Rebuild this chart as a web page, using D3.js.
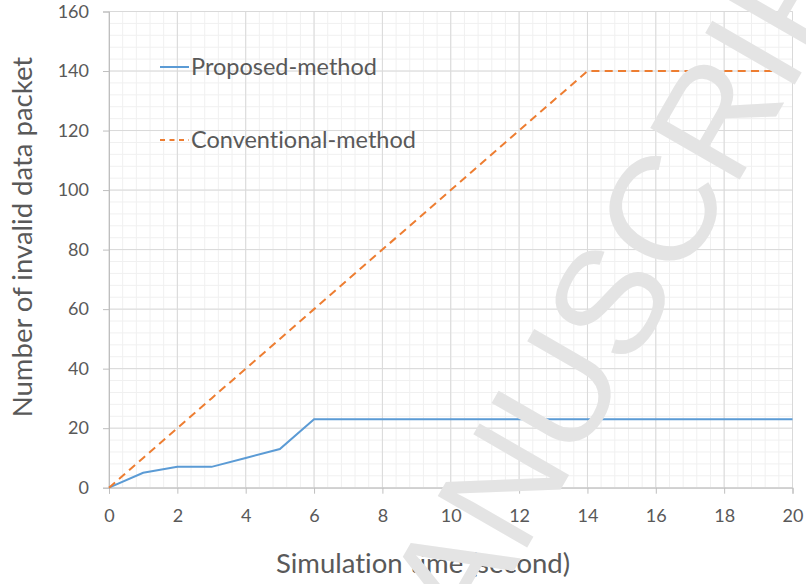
<!DOCTYPE html>
<html><head><meta charset="utf-8">
<script src="https://cdn.jsdelivr.net/npm/d3@7"></script>
<style>body{margin:0;background:#fff}svg{display:block}text{font-variant-ligatures:none;font-feature-settings:"liga" 0,"clig" 0}</style>
</head><body>
<svg id="c" width="806" height="584"></svg>
<script>
const times = [0,1,2,3,4,5,6,7,8,9,10,11,12,13,14,15,16,17,18,19,20];
const proposed = [0,5,7,7,10,13,23,23,23,23,23,23,23,23,23,23,23,23,23,23,23];
const conventional = [0,10,20,30,40,50,60,70,80,90,100,110,120,130,140,140,140,140,140,140,140];
const seriesNames = ["Proposed-method","Conventional-method"];
const xTicks = [0,2,4,6,8,10,12,14,16,18,20];
const yTicks = [0,20,40,60,80,100,120,140,160];
const xTitle = "Simulation time (second)";
const yTitle = "Number of invalid data packet";
const watermark = "ANUSCRIPT";

const svg = d3.select("#c");
const x = d3.scaleLinear().domain([0,20]).range([109,792.5]);
const y = d3.scaleLinear().domain([0,160]).range([487.7,11.5]);
const font = "Lato, 'Open Sans', sans-serif";
const tc = "#595959";

// minor grid
const xMinor = d3.range(0,20.001,0.4), yMinor = d3.range(0,160.001,4);
svg.append("g").selectAll("line").data(xMinor).join("line")
  .attr("x1",d=>x(d)).attr("x2",d=>x(d)).attr("y1",y(0)).attr("y2",y(160))
  .attr("stroke","#f0f0f0").attr("stroke-width",1);
svg.append("g").selectAll("line").data(yMinor).join("line")
  .attr("y1",d=>y(d)).attr("y2",d=>y(d)).attr("x1",x(0)).attr("x2",x(20))
  .attr("stroke","#f0f0f0").attr("stroke-width",1);
// major grid
svg.append("g").selectAll("line").data(xTicks).join("line")
  .attr("x1",d=>x(d)).attr("x2",d=>x(d)).attr("y1",y(0)).attr("y2",y(160))
  .attr("stroke","#d9d9d9").attr("stroke-width",1);
svg.append("g").selectAll("line").data(yTicks).join("line")
  .attr("y1",d=>y(d)).attr("y2",d=>y(d)).attr("x1",x(0)).attr("x2",x(20))
  .attr("stroke","#d9d9d9").attr("stroke-width",1);

// axes
const xAxis = svg.append("g").attr("transform",`translate(0,${y(0)})`)
  .call(d3.axisBottom(x).tickValues(xTicks).tickSize(6).tickPadding(16).tickFormat(d3.format("d")));
const yAxis = svg.append("g").attr("transform",`translate(${x(0)},0)`)
  .call(d3.axisLeft(y).tickValues(yTicks).tickSize(6).tickPadding(14).tickFormat(d3.format("d")));
[xAxis,yAxis].forEach(a=>{
  a.select(".domain").attr("stroke","#bfbfbf");
  a.selectAll(".tick line").attr("stroke","#bfbfbf");
  a.selectAll("text").attr("fill",tc).attr("font-family",font).attr("font-size",18);
});

// lines
const line = d3.line().x((d,i)=>x(times[i])).y(d=>y(d));
svg.append("path").datum(proposed).attr("d",line).attr("fill","none")
  .attr("stroke","#5b9bd5").attr("stroke-width",2);
svg.append("path").datum(conventional).attr("d",line).attr("fill","none")
  .attr("stroke","#ed7d31").attr("stroke-width",2).attr("stroke-dasharray","8,5.3");

// legend
const lg = svg.append("g");
[[67,"#5b9bd5",null],[140,"#ed7d31","5,4.5"]].forEach((s,i)=>{
  lg.append("line").attr("x1",160).attr("x2",189).attr("y1",s[0]).attr("y2",s[0])
    .attr("stroke",s[1]).attr("stroke-width",2).attr("stroke-dasharray",s[2]);
  lg.append("text").attr("x",191).attr("y",s[0]+7.5).text(seriesNames[i])
    .attr("fill",tc).attr("font-family",font).attr("font-size",23.5);
});

// titles
svg.append("text").attr("x",423).attr("y",573).attr("text-anchor","middle")
  .attr("fill",tc).attr("font-family",font).attr("font-size",27.5).text(xTitle);
svg.append("text").attr("transform","translate(32,237) rotate(-90)").attr("text-anchor","middle")
  .attr("fill",tc).attr("font-family",font).attr("font-size",27.5).text(yTitle);

// watermark
svg.append("text").attr("transform","translate(471,645) rotate(-60)")
  .attr("font-family","'Liberation Sans', Arial, sans-serif").attr("font-size",150)
  .attr("fill","#e4e4e4").text(watermark);
</script>
</body></html>
